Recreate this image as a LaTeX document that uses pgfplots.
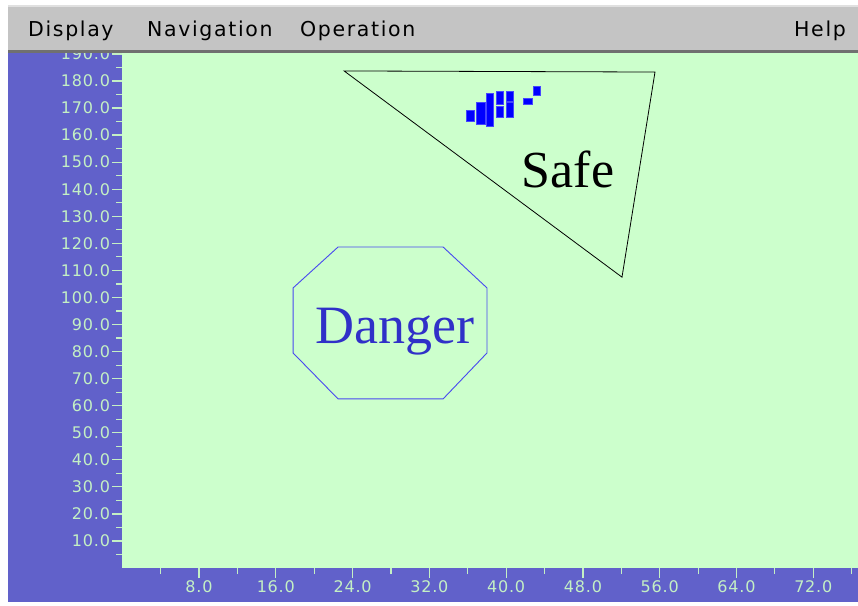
\documentclass[border=0pt]{standalone}
\usepackage{pgfplots}
\pgfplotsset{compat=1.18}
\usepackage{fontspec}
\newfontfamily\menufont[LetterSpace=8]{DejaVu Sans}
\newfontfamily\tickfont[LetterSpace=5]{DejaVu Sans}
\newfontfamily\bigserif{Liberation Serif}
\definecolor{panelblue}{RGB}{97,97,202}
\definecolor{bggreen}{RGB}{204,255,204}
\definecolor{labelgreen}{RGB}{196,240,196}
\definecolor{menugray}{RGB}{196,196,196}
\definecolor{menuline}{RGB}{112,112,112}
\definecolor{barblue}{RGB}{0,0,255}
\definecolor{barborder}{RGB}{70,70,255}
\definecolor{octblue}{RGB}{72,72,240}
\definecolor{dangerblue}{RGB}{48,48,200}
\begin{document}
\begin{tikzpicture}[x=1pt,y=1pt]
\path[use as bounding box] (0,0) rectangle (858,605);
\fill[white] (0,0) rectangle (858,605);
\fill[panelblue] (8,3) rectangle (858,552);
\begin{axis}[
  at={(122.2pt,36.94pt)}, anchor=south west,
  scale only axis, width=735.8pt, height=515.1pt,
  xmin=0, xmax=76.66, ymin=0, ymax=190.35,
  axis background/.style={fill=bggreen},
  axis line style={draw=none},
  no marks,
  xtick={8,16,...,72}, minor xtick={4,12,...,76},
  ytick={10,20,...,190}, minor ytick={5,15,...,185},
  xtick pos=bottom, ytick pos=left,
  tick align=outside,
  major tick length=10pt, minor tick length=6pt,
  every tick/.style={color=labelgreen, line width=1.2pt},
  /pgf/number format/.cd, fixed, fixed zerofill, precision=1, 1000 sep={}, assume math mode=true,
  /pgfplots/.cd,
  tick label style={font=\tickfont\fontsize{16}{19}\selectfont, text=labelgreen},
  yticklabel style={anchor=east, inner sep=0pt, xshift=-2pt},
  xticklabel style={anchor=base, inner sep=0pt, yshift=-14pt},
  clip=false,
]
% Safe triangle
\addplot[black, line width=0.8pt] coordinates {(23.12,183.7) (55.51,183.3) (52.07,107.5)} -- cycle;
% Danger octagon
\addplot[draw=octblue, line width=0.9pt] coordinates {(22.49,118.65) (33.43,118.65) (38.01,103.5) (38.01,79.5) (33.43,62.5) (22.49,62.5) (17.80,79.5) (17.80,103.5)} -- cycle;
% blue bars
\addplot[fill=barblue, draw=barborder, line width=0.5pt] coordinates {(35.80,165.0) (36.65,165.0) (36.65,169.0) (35.80,169.0)} -- cycle;
\addplot[fill=barblue, draw=barborder, line width=0.5pt] coordinates {(36.85,164.1) (37.80,164.1) (37.80,172.2) (36.85,172.2)} -- cycle;
\addplot[fill=barblue, draw=barborder, line width=0.5pt] coordinates {(37.90,163.4) (38.65,163.4) (38.65,175.6) (37.90,175.6)} -- cycle;
\addplot[fill=barblue, draw=barborder, line width=0.5pt] coordinates {(38.95,171.5) (39.65,171.5) (39.65,176.3) (38.95,176.3)} -- cycle;
\addplot[fill=barblue, draw=barborder, line width=0.5pt] coordinates {(38.95,166.7) (39.65,166.7) (39.65,170.8) (38.95,170.8)} -- cycle;
\addplot[fill=barblue, draw=barborder, line width=0.5pt] coordinates {(40.00,172.6) (40.70,172.6) (40.70,176.3) (40.00,176.3)} -- cycle;
\addplot[fill=barblue, draw=barborder, line width=0.5pt] coordinates {(40.00,166.7) (40.70,166.7) (40.70,172.2) (40.00,172.2)} -- cycle;
\addplot[fill=barblue, draw=barborder, line width=0.5pt] coordinates {(41.75,171.5) (42.70,171.5) (42.70,173.7) (41.75,173.7)} -- cycle;
\addplot[fill=barblue, draw=barborder, line width=0.5pt] coordinates {(42.80,174.8) (43.55,174.8) (43.55,178.1) (42.80,178.1)} -- cycle;
\node[anchor=base, text=dangerblue, font=\bigserif\fontsize{54}{60}\selectfont, inner sep=0pt] at (axis cs:28.42,82.8) {Danger};
\node[anchor=base, text=black, font=\bigserif\fontsize{52}{58}\selectfont, inner sep=0pt] at (axis cs:46.45,140.5) {Safe};
\end{axis}
% menu bar
\fill[menugray] (8,555) rectangle (858,598);
\fill[menuline] (8,552) rectangle (858,555);
\fill[black!12] (8,598) rectangle (858,600);
\node[anchor=base west, inner sep=0pt, font=\menufont\fontsize{20.5}{24}\selectfont] at (28,568.3) {Display};
\node[anchor=base west, inner sep=0pt, font=\menufont\fontsize{20.5}{24}\selectfont] at (147,568.3) {Navigation};
\node[anchor=base west, inner sep=0pt, font=\menufont\fontsize{20.5}{24}\selectfont] at (300,568.3) {Operation};
\node[anchor=base west, inner sep=0pt, font=\menufont\fontsize{20.5}{24}\selectfont] at (794,568.3) {Help};
\end{tikzpicture}
\end{document}
